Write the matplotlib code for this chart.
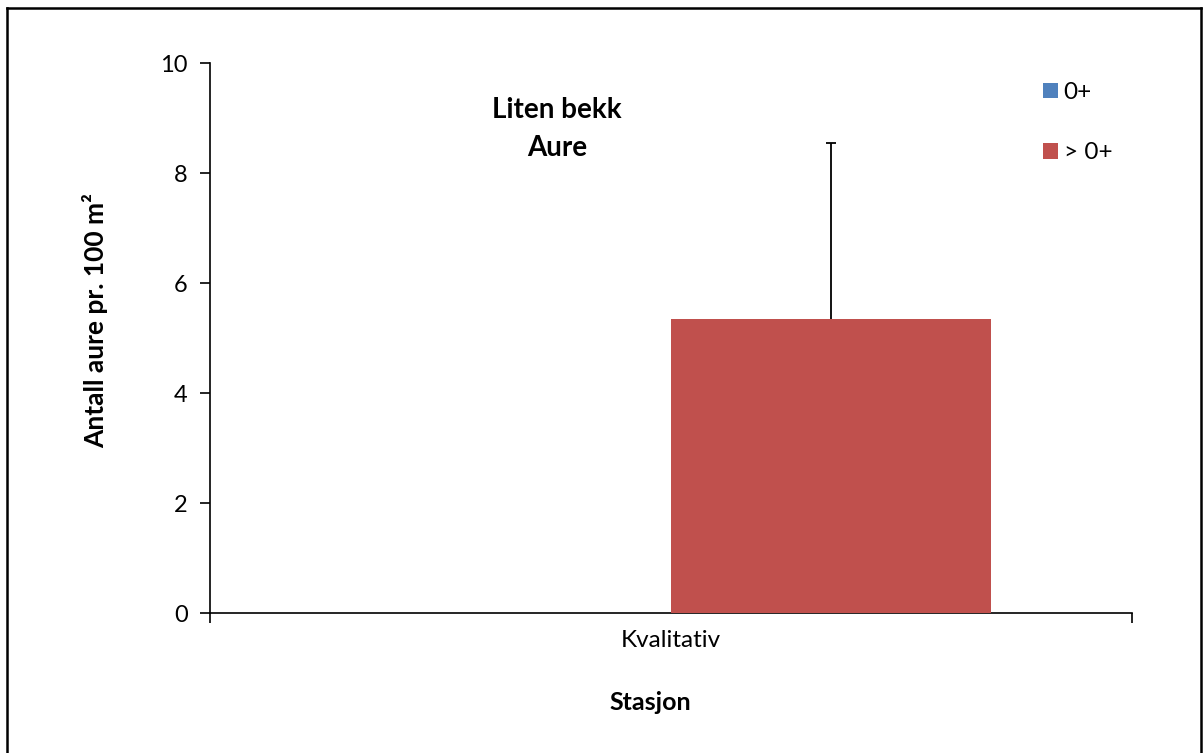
import matplotlib
matplotlib.use("Agg")
import matplotlib.pyplot as plt
from matplotlib.lines import Line2D
from matplotlib.patches import Patch
import numpy as np

categories = ["Kvalitativ"]
series_names = ["0+", "> 0+"]
values_0 = [0.0]
values_older = [5.35]
err_0 = [0.0]
err_older = [3.2]
yticks = [0, 2, 4, 6, 8, 10]

plt.rcParams['font.family'] = ['Lato', 'DejaVu Sans']

W, H = 1203, 753
fig = plt.figure(figsize=(W / 100, H / 100), dpi=100)
ax = fig.add_axes([210 / W, 1 - 613 / H, (1132 - 210) / W, (613 - 63) / H])

x = np.arange(len(categories))
bw = 0.347
c_blue = "#4F81BD"
c_red = "#C0504D"
ax.bar(x - bw / 2, values_0, bw, color=c_blue, label=series_names[0], zorder=3)
ax.bar(x + bw / 2, values_older, bw, color=c_red, label=series_names[1], zorder=3)
eb = ax.errorbar(x + bw / 2, values_older, yerr=[np.zeros(len(x)), err_older],
                 fmt='none', ecolor='black', elinewidth=1.3, capsize=3.5, capthick=1.3,
                 zorder=2)
caplines = eb[1]
if len(caplines) >= 2:
    caplines[0].set_visible(False)

ax.set_xlim(-0.5, len(categories) - 0.5)
ax.set_ylim(0, 10)
ax.set_yticks(yticks)
ax.set_yticklabels([str(t) for t in yticks], fontsize=17)
ax.set_xticks(x)
ax.set_xticklabels(categories, fontsize=17.5)
ax.set_xticks(np.arange(len(categories) + 1) - 0.5, minor=True)
ax.tick_params(axis='x', which='major', length=0, pad=12)
ax.tick_params(axis='x', which='minor', length=7, width=1.2, direction='out')
ax.tick_params(axis='y', length=7, width=1.2, direction='out', pad=9)
for s in ['top', 'right']:
    ax.spines[s].set_visible(False)
for s in ['left', 'bottom']:
    ax.spines[s].set_linewidth(1.2)

ax.set_ylabel("Antall aure pr. 100 m\u00b2", fontsize=19, fontweight='bold')
ax.set_xlabel("Stasjon", fontsize=18, fontweight='bold')
ax.yaxis.set_label_coords((95 - 210) / (1132 - 210), (613 - 321) / (613 - 63))
ax.yaxis.label.set_verticalalignment('center')
ax.xaxis.set_label_coords((650 - 210) / (1132 - 210), -(703 - 613) / (613 - 63))
ax.xaxis.label.set_verticalalignment('center')

fig.text(557 / W, 1 - 129 / H, "Liten bekk\nAure", ha='center', va='center',
         fontsize=20, fontweight='bold', linespacing=1.55)

handles = [Patch(facecolor=c_blue), Patch(facecolor=c_red)]
leg = fig.legend(handles, series_names, loc='upper left',
                 bbox_to_anchor=(1043 / W, 1 - 82 / H), frameon=False,
                 fontsize=17.5, handlelength=0.6, handleheight=0.6,
                 handletextpad=0.25, labelspacing=1.62, borderpad=0,
                 borderaxespad=0)

# outer border
lw = 1.8
fig.add_artist(Line2D([7 / W, 1201 / W], [1 - 8 / H, 1 - 8 / H], color='black', lw=lw, transform=fig.transFigure))
fig.add_artist(Line2D([7 / W, 7 / W], [1 - 8 / H, 0], color='black', lw=lw, transform=fig.transFigure))
fig.add_artist(Line2D([1201 / W, 1201 / W], [1 - 8 / H, 0], color='black', lw=lw, transform=fig.transFigure))

fig.savefig("out.png", dpi=100)
